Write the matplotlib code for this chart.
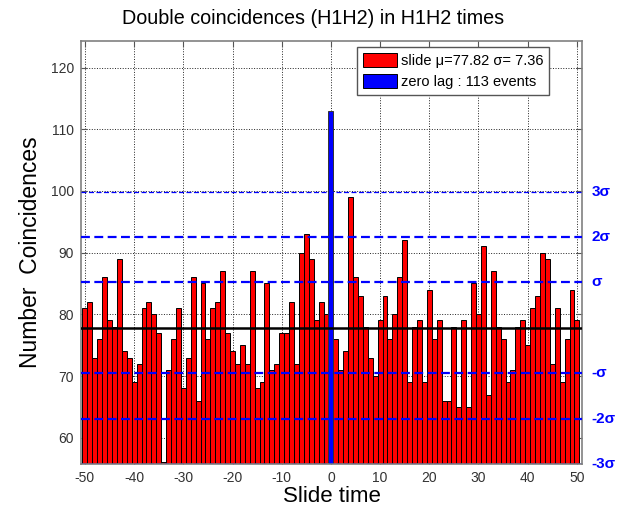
import numpy as np
import matplotlib
matplotlib.use("Agg")
import matplotlib.pyplot as plt
from matplotlib.patches import Patch

plt.rcParams['font.family'] = ['Liberation Sans', 'DejaVu Sans']
plt.rcParams['axes.unicode_minus'] = False

# ---- data ----
lags_neg = list(range(-50, 0))
lags_pos = list(range(1, 51))
counts_neg = [81, 82, 73, 76, 86, 79, 78, 89, 74, 73,
              69, 72, 81, 82, 80, 77, 56, 71, 76, 81,
              68, 73, 86, 66, 85, 76, 81, 82, 87, 77,
              74, 72, 75, 72, 87, 68, 69, 85, 71, 72,
              77, 77, 82, 72, 90, 93, 89, 79, 82, 80]
counts_pos = [76, 71, 74, 99, 86, 83, 78, 73, 70, 79,
              83, 76, 80, 86, 92, 69, 78, 79, 69, 84,
              76, 79, 66, 66, 78, 65, 79, 65, 85, 80,
              91, 67, 87, 78, 76, 69, 71, 78, 79, 75,
              81, 83, 90, 89, 72, 81, 69, 76, 84, 79]
zero_lag = 0
zero_count = 113
mu = 77.82
sigma = 7.36
sigma_levels = [3, 2, 1, -1, -2, -3]
sigma_labels = ['3σ', '2σ', 'σ', '-σ', '-2σ', '-3σ']

W, H = 626, 511
fig = plt.figure(figsize=(W / 100, H / 100), dpi=100)
ax = fig.add_axes([81 / W, (H - 464) / H, 501.3 / W, 423 / H])

slide_x = lags_neg + lags_pos
slide_y = counts_neg + counts_pos
ax.bar(slide_x, slide_y, width=1.0, color='red', edgecolor='black',
       linewidth=0.7, zorder=2)
ax.bar([zero_lag], [zero_count], width=1.0, color='blue', edgecolor='#333333',
       linewidth=0.7, zorder=2)

# mean and sigma lines
ax.axhline(mu, color='black', lw=1.8, zorder=3)
for k in sigma_levels:
    lw = 0.9 if abs(k) == 3 else 1.6
    ax.axhline(mu + k * sigma, color='blue', lw=lw, ls=(0, (4, 2)), zorder=3)

ax.set_xlim(-50.8, 51.1)
ax.set_ylim(mu - 3 * sigma, zero_count * 1.1)
ax.set_xticks(np.arange(-50, 51, 10))
ax.set_yticks(np.arange(60, 121, 10))

ax.set_axisbelow(True)
ax.grid(True, ls=':', color='#222222', lw=0.7)
ax.tick_params(direction='in', top=True, right=True, length=4,
               color='#555555', labelsize=10, labelcolor='#333333', pad=5)
for s in ax.spines.values():
    s.set_color('#808080')
    s.set_linewidth(1.2)

# labels on the right for sigma levels
ytr = ax.get_yaxis_transform()
for k, lab in zip(sigma_levels, sigma_labels):
    ax.text(1.018, mu + k * sigma, lab, transform=ytr, ha='left', va='center',
            color='blue', fontsize=11, fontweight='bold', clip_on=False)

ax.set_xlabel('Slide time', fontsize=16)
ax.set_ylabel('Number  Coincidences', fontsize=16.5)
ax.xaxis.set_label_coords(0.5, -0.052)
ax.yaxis.set_label_coords(-0.078, 0.5)

fig.text(0.5, 1 - 18.5 / H, 'Double coincidences (H1H2) in H1H2 times',
         ha='center', va='center', fontsize=14.2)

handles = [Patch(facecolor='red', edgecolor='black', lw=0.7),
           Patch(facecolor='blue', edgecolor='black', lw=0.7)]
labels = [f'slide μ={mu:.2f} σ= {sigma:.2f}', f'zero lag : {zero_count} events']
leg = ax.legend(handles, labels, loc='upper right', bbox_to_anchor=(0.934, 0.9865),
                borderaxespad=0, fontsize=10.5, handlelength=2.3, handleheight=1.1,
                labelspacing=0.45, handletextpad=0.3, borderpad=0.4,
                fancybox=False, framealpha=1)
leg.get_frame().set_edgecolor('#555555')
leg.get_frame().set_linewidth(1.0)

fig.savefig('out.png', dpi=100)
